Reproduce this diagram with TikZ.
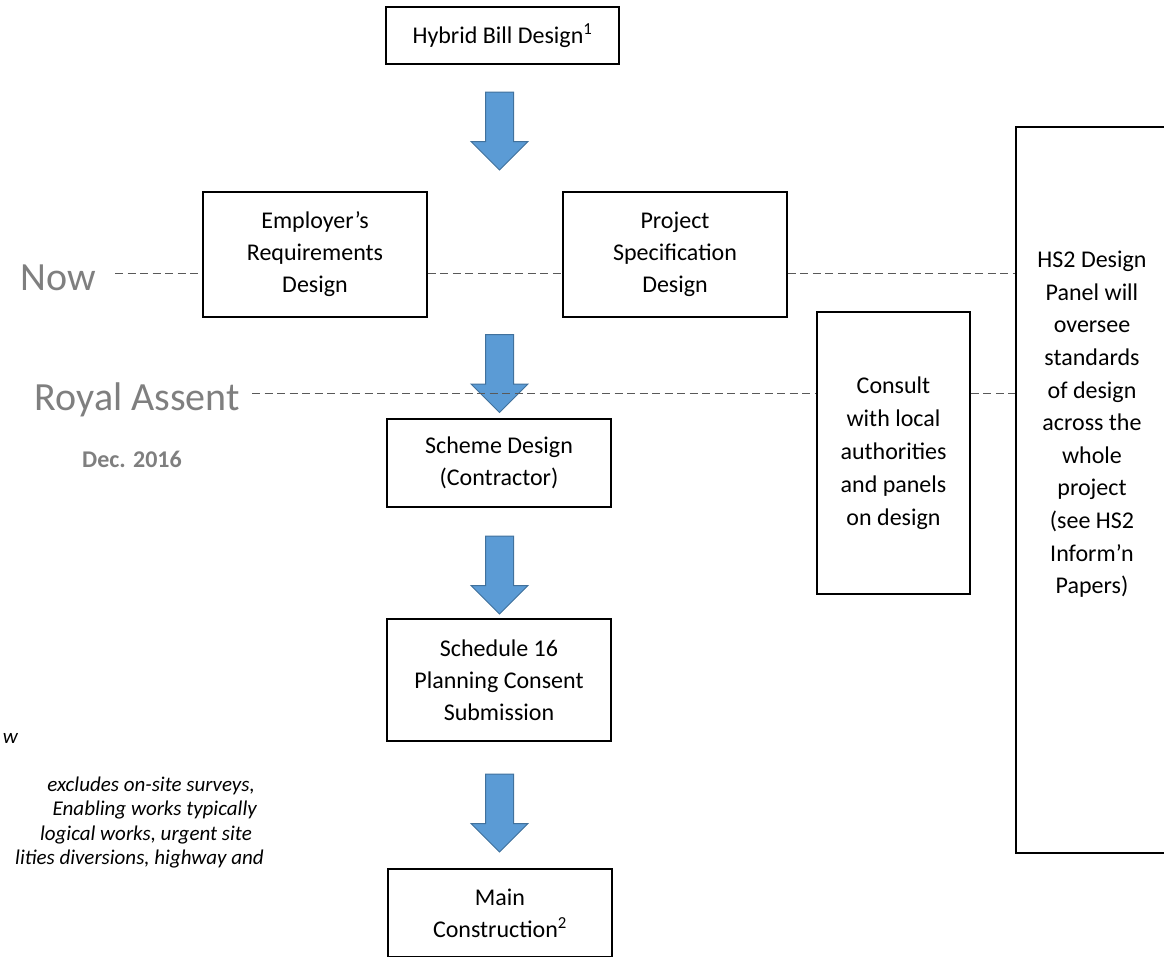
\documentclass[tikz,border=0pt]{standalone}
\usepackage{fontspec}
\setmainfont{Carlito}
\usetikzlibrary{shapes.arrows,positioning}
\definecolor{arrowblue}{HTML}{5B9BD5}
\definecolor{arrowline}{HTML}{41719C}
\definecolor{stagegray}{HTML}{7F7F7F}
\tikzset{
  stagebox/.style={draw,line width=1.5pt,align=center,inner sep=0pt,
    minimum width=224pt,font=\fontsize{24}{32}\selectfont},
  downarrow/.style={single arrow,draw=arrowline,fill=arrowblue,line width=1pt,
    rotate=-90,minimum height=78pt,inner xsep=0pt,inner ysep=13.5pt,
    single arrow head extend=14.5pt,single arrow tip angle=90,
    single arrow head indent=0pt},
  timeline/.style={dash pattern=on 8pt off 4.5pt,line width=1pt,black!65},
  milestone/.style={stagegray,font=\fontsize{40}{48}\selectfont,inner sep=0pt},
  note/.style={font=\fontsize{21}{24.5}\selectfont\itshape,inner sep=0pt}
}
\begin{document}
\begin{tikzpicture}[x=1pt,y=-1pt]
  \useasboundingbox (0,0) rectangle (1164,956);

  % arrows between stages
  \foreach \n/\y in {a1/124,a2/366.5,a3/568,a4/806}
    \node[downarrow] (\n) at (499.5,\y) {};

  % design stages
  \node[stagebox,minimum width=233pt,minimum height=57pt] (hybrid) at (502.5,35.5) {Hybrid Bill Design\textsuperscript{1}};
  \node[stagebox,minimum height=125pt] (employer) at (315,254.5) {Employer’s\\Requirements\\Design};
  \node[stagebox,minimum height=125pt] (projspec) at (675,254.5) {Project\\Specification\\Design};
  \node[stagebox,minimum height=88pt] (scheme) at (499,463) {Scheme Design\\(Contractor)};
  \node[stagebox,minimum height=122pt] (sched16) at (499,680) {Schedule 16\\Planning Consent\\Submission};
  \node[stagebox,minimum height=88pt] (mainc) at (500,913) {Main\\Construction\textsuperscript{2}};

  % panels on the right
  \node[stagebox,minimum width=153pt,minimum height=282pt,font=\fontsize{24}{33}\selectfont] (consult) at (893.5,453)
    {Consult\\with local\\authorities\\and panels\\on design};
  \node[draw,line width=1.5pt,minimum width=152pt,minimum height=726pt,inner sep=0pt] (hs2) at (1092,490) {};
  \node[anchor=north,align=center,inner sep=0pt,font=\fontsize{24}{32.6}\selectfont] (hs2txt) at (1092,251)
    {HS2 Design\\Panel will\\oversee\\standards\\of design\\across the\\whole\\project\\(see HS2\\Inform’n\\Papers)};

  % milestones
  \node[milestone,anchor=base east] (now) at (96,290) {Now};
  \node[milestone,anchor=base east] (assent) at (240,410) {Royal Assent};
  \node[stagegray,font=\fontsize{24}{28}\selectfont\bfseries,anchor=base east,inner sep=0pt] (assentdate) at (182,467) {Dec. 2016};
  \coordinate (nowend) at (115,273);
  \coordinate (assentend) at (252,393);
  \draw[timeline] (nowend) -- (employer.west |- nowend);
  \draw[timeline] (employer.east |- nowend) -- (projspec.west |- nowend);
  \draw[timeline] (projspec.east |- nowend) -- (hs2.west |- nowend);
  \draw[timeline] (assentend) -- (consult.west |- assentend);
  \draw[timeline] (consult.east |- assentend) -- (hs2.west |- assentend);

  % footnotes, cut off at the left
  \node[note,anchor=base east] (fn0) at (18,743) {w};
  \node[note,anchor=base east] (fn1) at (255,791) {excludes on-site surveys,};
  \node[note,anchor=base east] (fn2) at (257,815.5) {Enabling works typically};
  \node[note,anchor=base east] (fn3) at (252,840) {logical works, urgent site};
  \node[note,anchor=base east] (fn4) at (264,864.5) {lities diversions, highway and};
\end{tikzpicture}
\end{document}
